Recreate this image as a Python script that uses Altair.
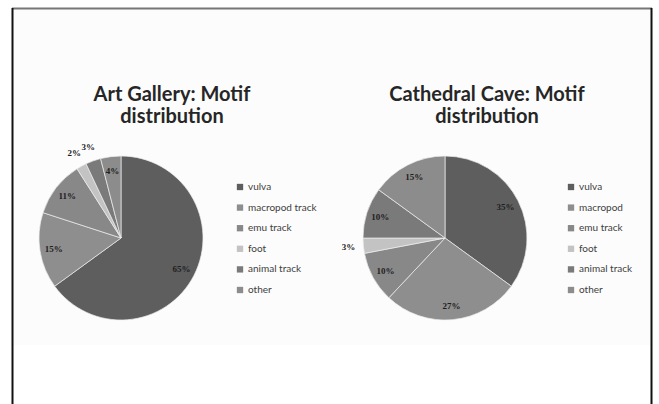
import altair as alt
import pandas as pd

# ---- data ----
ag_motifs = ["vulva", "macropod track", "emu track", "foot", "animal track", "other"]
ag_values = [65, 15, 11, 2, 3, 4]
cc_motifs = ["vulva", "macropod", "emu track", "foot", "animal track", "other"]
cc_values = [35, 27, 10, 3, 10, 15]
titles = [["Art Gallery: Motif", "distribution"], ["Cathedral Cave: Motif", "distribution"]]

slice_colors = ["#5e5e5e", "#8e8e8e", "#888888", "#c3c3c3", "#7a7a7a", "#8c8c8c"]

FONT = "Lato"

def site_df(motifs, values):
    return pd.DataFrame({"motif": motifs, "value": values, "idx": list(range(len(motifs)))})

ag = site_df(ag_motifs, ag_values)
cc = site_df(cc_motifs, cc_values)


def pie(df, motifs, cx, cy, lx, ly):
    base = alt.Chart(df).encode(
        theta=alt.Theta("value:Q", stack=True),
        order=alt.Order("idx:Q", sort="ascending"),
        x=alt.value(cx),
        y=alt.value(cy),
    )
    arcs = base.mark_arc(outerRadius=82, stroke="#eeeeee", strokeWidth=0.7).encode(
        color=alt.Color(
            "motif:N",
            sort=motifs,
            scale=alt.Scale(domain=motifs, range=slice_colors),
            legend=alt.Legend(
                title=None,
                orient="none",
                legendX=lx,
                legendY=ly,
                symbolType="square",
                symbolSize=40,
                symbolStrokeWidth=0,
                labelFont=FONT,
                labelFontSize=10,
                labelColor="#404040",
                labelOffset=3,
                rowPadding=10.6,
                padding=0,
            ),
        )
    )
    txt = base.transform_calculate(
        pin="datum.value > 3 ? datum.value + '%' : ''",
        pout="datum.value <= 3 ? datum.value + '%' : ''",
    )
    style = dict(font="Liberation Serif", fontSize=9, fontWeight="bold", color="#1e1e1e")
    inner = txt.mark_text(radius=68, **style).encode(text="pin:N")
    outer = txt.mark_text(radius=97, **style).encode(text="pout:N")
    return arcs, inner, outer


ag_arcs, ag_in, ag_out = pie(ag, ag_motifs, 121, 238, 235, 182)
cc_arcs, cc_in, cc_out = pie(cc, cc_motifs, 445, 238, 566, 182)

title_df = pd.DataFrame({"t": titles, "cx": [172, 487]})
title_layer = alt.Chart(title_df).mark_text(
    font=FONT, fontSize=20, fontWeight="bold", color="#262626",
    baseline="alphabetic", align="center", lineHeight=22,
).encode(
    x=alt.X("cx:Q", scale=None),
    y=alt.value(101),
    text="t",
)

# frame decoration
frame_df = pd.DataFrame({"k": [0]})
top_line = alt.Chart(frame_df).mark_rule(color="#777777", strokeWidth=2).encode(
    x=alt.value(12), x2=alt.value(652), y=alt.value(8.5)
)
left_line = alt.Chart(frame_df).mark_rule(color="#111111", strokeWidth=2).encode(
    x=alt.value(12.5), y=alt.value(8), y2=alt.value(404)
)
right_line = alt.Chart(frame_df).mark_rule(color="#111111", strokeWidth=2).encode(
    x=alt.value(651.5), y=alt.value(8), y2=alt.value(404)
)
band = alt.Chart(frame_df).mark_rect(color="#fcfcfc").encode(
    x=alt.value(13), x2=alt.value(651), y=alt.value(9), y2=alt.value(345)
)

chart = alt.layer(
    band, top_line, left_line, right_line,
    ag_arcs, ag_in, ag_out, cc_arcs, cc_in, cc_out, title_layer,
).resolve_scale(
    color="independent", theta="independent"
).properties(
    width=659, height=404, padding=0,
    autosize=alt.AutoSizeParams(type="none"),
    background="white",
).configure_view(stroke=None)

chart.save("out.html", embed_options={"renderer": "svg", "actions": False})
